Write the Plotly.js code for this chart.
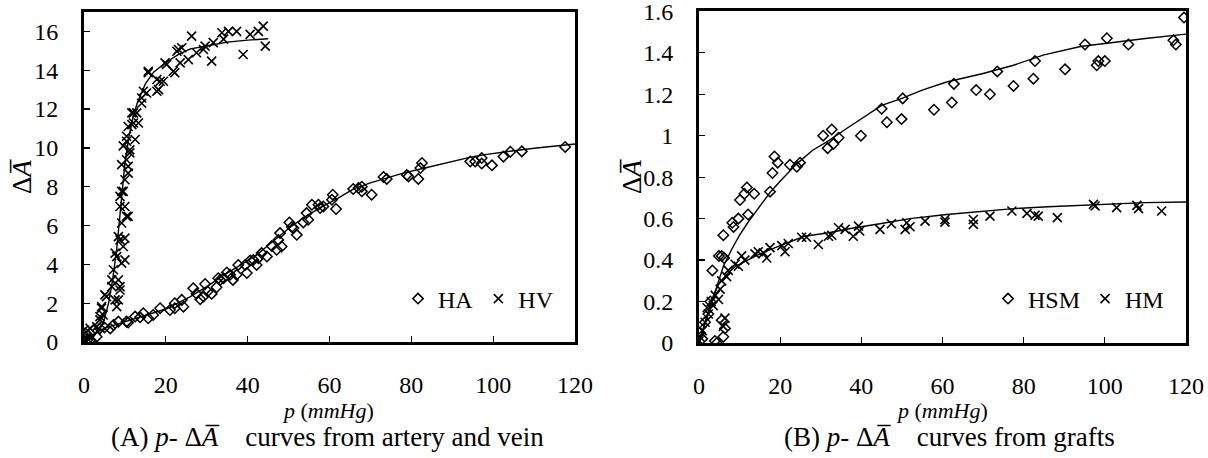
<!DOCTYPE html>
<html>
<head>
<meta charset="utf-8">
<script src="https://cdn.plot.ly/plotly-3.0.1.min.js"></script>
<style>html,body{margin:0;padding:0;background:#fff;}#chart{width:1208px;height:458px;}</style>
</head>
<body>
<div id="chart"></div>
<script>
// ---- Panel A: artery (HA) and vein (HV) ----
const haP = [0.3,0.8,1.5,1.9,2.3,3.1,3.9,5.0,6.4,7.2,8.4,10.4,10.8,12.5,13.7,14.5,15.7,16.9,18.6,21.0,22.2,22.2,23.9,24.3,26.7,27.5,28.4,29.2,29.6,30.2,31.2,32.4,32.8,33.3,34.1,34.9,35.7,36.4,37.3,37.7,39.4,39.8,40.6,41.4,42.2,42.6,43.4,44.7,45.9,47.1,47.5,47.9,48.3,50.2,50.8,51.2,52.0,53.6,54.4,54.8,55.7,57.3,57.7,58.5,60.6,60.8,61.6,65.8,67.1,67.9,67.9,70.3,73.2,74.0,78.9,79.3,81.7,82.2,82.6,94.4,95.6,97.2,97.2,99.7,102.5,104.2,107.0,117.6];
const haV = [0.45,0.1,0.1,0.02,0.6,0.27,0.7,0.75,0.7,0.88,1.05,1.05,1.0,1.31,1.27,1.48,1.22,1.39,1.74,1.65,1.74,2.0,2.17,1.82,2.77,2.48,2.2,2.34,2.99,2.6,2.48,2.82,3.29,3.2,3.29,3.58,3.46,3.2,3.46,3.97,3.97,3.55,4.2,4.23,3.97,4.32,4.58,4.4,4.95,4.75,5.26,5.61,4.92,6.16,5.92,5.87,5.52,6.16,6.64,6.3,7.07,7.07,6.9,6.98,7.33,7.59,6.85,7.88,7.93,8.0,7.76,7.59,8.5,8.4,8.6,8.53,8.4,8.96,9.22,9.3,9.3,9.48,9.19,9.1,9.55,9.8,9.82,10.05];
const hvP = [0.0,0.2,0.7,1.5,3.1,3.9,3.9,4.3,4.3,4.7,5.1,5.5,6.8,6.8,7.2,7.6,7.6,8.0,8.0,8.4,8.4,8.4,8.8,8.8,8.8,8.8,8.8,9.2,9.2,9.2,9.2,9.6,9.6,9.6,10.0,10.0,10.0,10.0,10.4,10.4,10.4,10.4,10.8,10.8,10.8,10.8,11.2,11.2,11.7,11.7,12.1,12.1,12.5,12.9,13.3,14.1,14.1,14.5,15.3,15.7,15.7,17.8,17.8,18.2,18.6,19.4,19.8,20.2,21.8,22.2,22.7,23.1,23.5,23.9,25.5,26.3,27.5,29.2,29.6,31.2,31.6,33.7,34.1,35.3,37.3,38.9,40.6,42.6,43.8,44.3];
const hvV = [0.62,0.45,0.19,0.7,0.79,1.14,1.31,1.74,1.82,1.39,2.43,2.34,2.85,3.2,3.72,4.58,2.17,1.82,4.4,5.43,3.2,2.17,2.68,2.85,5.26,6.98,7.5,6.13,4.06,7.76,9.14,4.92,7.76,10.1,4.23,5.35,6.98,8.36,6.47,9.39,10.34,10.6,6.47,8.7,9.05,11.1,9.74,9.9,11.2,11.8,11.28,11.8,10.43,11.8,11.28,12.3,12.57,12.92,12.83,13.87,13.95,12.92,13.52,13.0,13.43,13.43,14.38,14.3,13.95,13.87,14.98,15.07,14.38,15.16,14.55,15.76,14.9,15.07,15.24,14.47,15.42,15.93,15.6,16.0,16.0,14.81,15.85,16.0,16.27,15.24];
const haFitP = [0,2,5,10,15,20,26,30,34,38,42,46,50,54,58,62,66,70,74,78,82,86,90,94,98,102,106,110,115,120];
const haFitV = [0,0.35,0.72,1.05,1.35,1.7,2.34,2.85,3.42,3.95,4.45,5.15,5.85,6.45,6.95,7.4,7.9,8.2,8.45,8.7,8.9,9.1,9.3,9.5,9.65,9.78,9.88,9.98,10.1,10.2];
const hvFitP = [0,2,4,5,6,7,8,9,10,11,12,13,14,15,17,20,23,26,30,35,40,45];
const hvFitV = [0,0.2,0.7,1.2,2.0,3.2,4.8,7.0,9.2,10.6,11.6,12.3,12.8,13.3,13.9,14.4,14.8,15.1,15.25,15.45,15.55,15.62];

// ---- Panel B: grafts (HSM) and (HM) ----
const hsmP = [0.2,0.8,1.5,2.3,2.8,3.3,3.9,4.4,4.9,5.6,5.6,6.0,6.0,6.2,6.4,8.2,8.5,9.7,10.1,11.2,11.8,12.1,13.6,17.5,18.1,18.6,19.4,22.4,24.1,24.9,30.6,31.7,32.7,33.1,34.4,39.9,45.0,46.3,49.9,50.2,57.9,62.3,62.8,68.3,71.7,73.5,77.5,82.4,82.8,90.2,95.1,98.0,98.4,100.0,100.5,105.8,116.9,117.5,119.5];
const hsmV = [0.05,0.02,0.1,0.14,0.2,0.35,0.01,0.0,0.42,0.42,0.11,0.52,0.03,0.41,0.07,0.58,0.56,0.6,0.69,0.72,0.75,0.62,0.72,0.73,0.82,0.9,0.87,0.86,0.85,0.87,1.0,0.94,1.03,0.96,0.99,1.0,1.13,1.065,1.08,1.18,1.125,1.16,1.25,1.22,1.2,1.31,1.24,1.275,1.36,1.32,1.44,1.34,1.36,1.36,1.47,1.44,1.46,1.44,1.57];
const hmP = [0.0,0.2,0.8,1.5,2.0,2.3,3.0,3.5,4.0,4.8,5.2,5.6,6.0,6.4,6.8,7.2,8.9,9.7,10.5,11.3,13.8,14.6,15.9,16.7,17.5,20.4,21.2,22.0,25.3,26.5,29.4,31.9,32.7,34.4,36.0,38.0,39.3,39.6,44.6,47.4,50.8,51.2,52.0,55.7,60.6,60.6,67.6,67.6,71.7,77.1,80.8,82.8,83.6,88.3,97.2,97.6,102.9,107.9,108.3,114.0];
const hmV = [0.01,0.03,0.06,0.1,0.17,0.14,0.2,0.18,0.23,0.21,0.26,0.3,0.08,0.12,0.32,0.35,0.38,0.37,0.42,0.4,0.43,0.44,0.435,0.41,0.46,0.47,0.44,0.48,0.51,0.51,0.475,0.515,0.52,0.556,0.548,0.515,0.564,0.54,0.548,0.575,0.548,0.58,0.561,0.588,0.596,0.583,0.596,0.572,0.612,0.637,0.625,0.616,0.612,0.605,0.669,0.661,0.653,0.664,0.648,0.637];
const hsmFitP = [0,2,4,6,8,10,12,15,17.5,20,24,28,32,36,40,45,50,55,61,70,77.5,85,94,102,110,120];
const hsmFitV = [0,0.12,0.25,0.37,0.45,0.52,0.58,0.66,0.726,0.78,0.863,0.93,0.976,1.03,1.08,1.146,1.18,1.22,1.259,1.3,1.34,1.39,1.43,1.45,1.469,1.49];
const hmFitP = [0,1,2,3,4,5,7.2,9,11.4,15,19.7,26,32,38,44.6,52,61,70,77.5,86,94,102,110,120];
const hmFitV = [0,0.07,0.14,0.2,0.25,0.29,0.338,0.37,0.394,0.43,0.467,0.515,0.532,0.555,0.575,0.6,0.62,0.635,0.648,0.657,0.664,0.67,0.677,0.68];

const xTicks = [0,20,40,60,80,100,120];
const yTicksA = [0,2,4,6,8,10,12,14,16];
const yTicksB = [0,0.2,0.4,0.6,0.8,1,1.2,1.4,1.6];
const yTextB = ['0','0.2','0.4','0.6','0.8','1','1.2','1.4','1.6'];
const GAP = '\u00a0\u00a0\u00a0';
const captionA = '(A) <i>p</i>- Δ<i>A̅</i>' + GAP + ' curves from artery and vein';
const captionB = '(B) <i>p</i>- Δ<i>A̅</i>' + GAP + ' curves from grafts';
const xTitle = '<i>p</i> (<i>mmHg</i>)';
const yTitle = 'Δ<i>A̅</i>';

const FONT = 'Liberation Serif';
const W = 1208, H = 458;
const px = v => v / W;
const py = v => (H - v) / H;

const diamond = {symbol: 'diamond-open', size: 8, color: '#000', line: {color: '#000', width: 1.5}};
const cross = {symbol: 'x-thin-open', size: 9, color: '#000', line: {color: '#000', width: 1.6}};
const fitLine = {color: '#000', width: 1.4};

const traces = [
  {x: haFitP, y: haFitV, mode: 'lines', line: fitLine, showlegend: false, xaxis: 'x', yaxis: 'y', hoverinfo: 'skip'},
  {x: hvFitP, y: hvFitV, mode: 'lines', line: fitLine, showlegend: false, xaxis: 'x', yaxis: 'y', hoverinfo: 'skip'},
  {x: haP, y: haV, mode: 'markers', name: 'HA', marker: diamond, xaxis: 'x', yaxis: 'y', legend: 'legend'},
  {x: hvP, y: hvV, mode: 'markers', name: 'HV', marker: cross, xaxis: 'x', yaxis: 'y', legend: 'legend'},
  {x: hsmFitP, y: hsmFitV, mode: 'lines', line: fitLine, showlegend: false, xaxis: 'x2', yaxis: 'y2', hoverinfo: 'skip'},
  {x: hmFitP, y: hmFitV, mode: 'lines', line: fitLine, showlegend: false, xaxis: 'x2', yaxis: 'y2', hoverinfo: 'skip'},
  {x: hsmP, y: hsmV, mode: 'markers', name: 'HSM', marker: diamond, xaxis: 'x2', yaxis: 'y2', legend: 'legend2'},
  {x: hmP, y: hmV, mode: 'markers', name: 'HM', marker: cross, xaxis: 'x2', yaxis: 'y2', legend: 'legend2'}
];

function tf() { return {family: FONT, size: 24, color: '#000'}; }
function xax(domain, anchor) {
  return {domain: domain, anchor: anchor, range: [0, 120], tickmode: 'array', tickvals: xTicks, ticks: 'inside', ticklen: 6, tickwidth: 1.3,
    tickcolor: '#000', showline: true, linewidth: 3, linecolor: '#000', mirror: true, showgrid: false, zeroline: false,
    tickfont: tf(), ticklabelstandoff: 19, ticklabeloverflow: 'allow', fixedrange: true};
}
function yax(domain, anchor, range, vals, texts) {
  const a = {domain: domain, anchor: anchor, range: range, tickmode: 'array', tickvals: vals, ticks: 'inside', ticklen: 6, tickwidth: 1.3,
    tickcolor: '#000', showline: true, linewidth: 3, linecolor: '#000', mirror: true, showgrid: false, zeroline: false,
    tickfont: tf(), ticklabelstandoff: 18, ticklabeloverflow: 'allow', fixedrange: true};
  if (texts) a.ticktext = texts;
  return a;
}

function ann(text, x, y, size, angle) {
  const a = {text: text, x: px(x), y: py(y), xref: 'paper', yref: 'paper', xanchor: 'center', yanchor: 'middle',
    showarrow: false, font: {family: FONT, size: size, color: '#000'}};
  if (angle) a.textangle = angle;
  return a;
}

const layout = {
  width: W, height: H,
  margin: {l: 0, r: 0, t: 0, b: 0},
  paper_bgcolor: '#fff', plot_bgcolor: '#fff',
  font: {family: FONT, size: 24, color: '#000'},
  xaxis: xax([px(84), px(575)], 'y'),
  yaxis: yax([py(342), py(12)], 'x', [0, 17], yTicksA),
  xaxis2: xax([px(699), px(1186)], 'y2'),
  yaxis2: yax([py(343), py(11)], 'x2', [0, 1.6015], yTicksB, yTextB),
  legend: {x: px(398), y: py(299), xanchor: 'left', yanchor: 'middle', orientation: 'h', bgcolor: 'rgba(0,0,0,0)', font: {family: FONT, size: 24, color: '#000'}, itemwidth: 30},
  legend2: {x: px(988), y: py(299), xanchor: 'left', yanchor: 'middle', orientation: 'h', bgcolor: 'rgba(0,0,0,0)', font: {family: FONT, size: 24, color: '#000'}, itemwidth: 30},
  annotations: [
    ann(xTitle, 328, 410, 22),
    ann(xTitle, 942, 410, 22),
    ann(captionA, 327, 437, 27),
    ann(captionB, 949, 437, 27),
    ann(yTitle, 22, 177, 27, -90),
    ann(yTitle, 632, 177, 27, -90)
  ]
};

Plotly.newPlot('chart', traces, layout, {displayModeBar: false, staticPlot: true});
</script>
</body>
</html>
